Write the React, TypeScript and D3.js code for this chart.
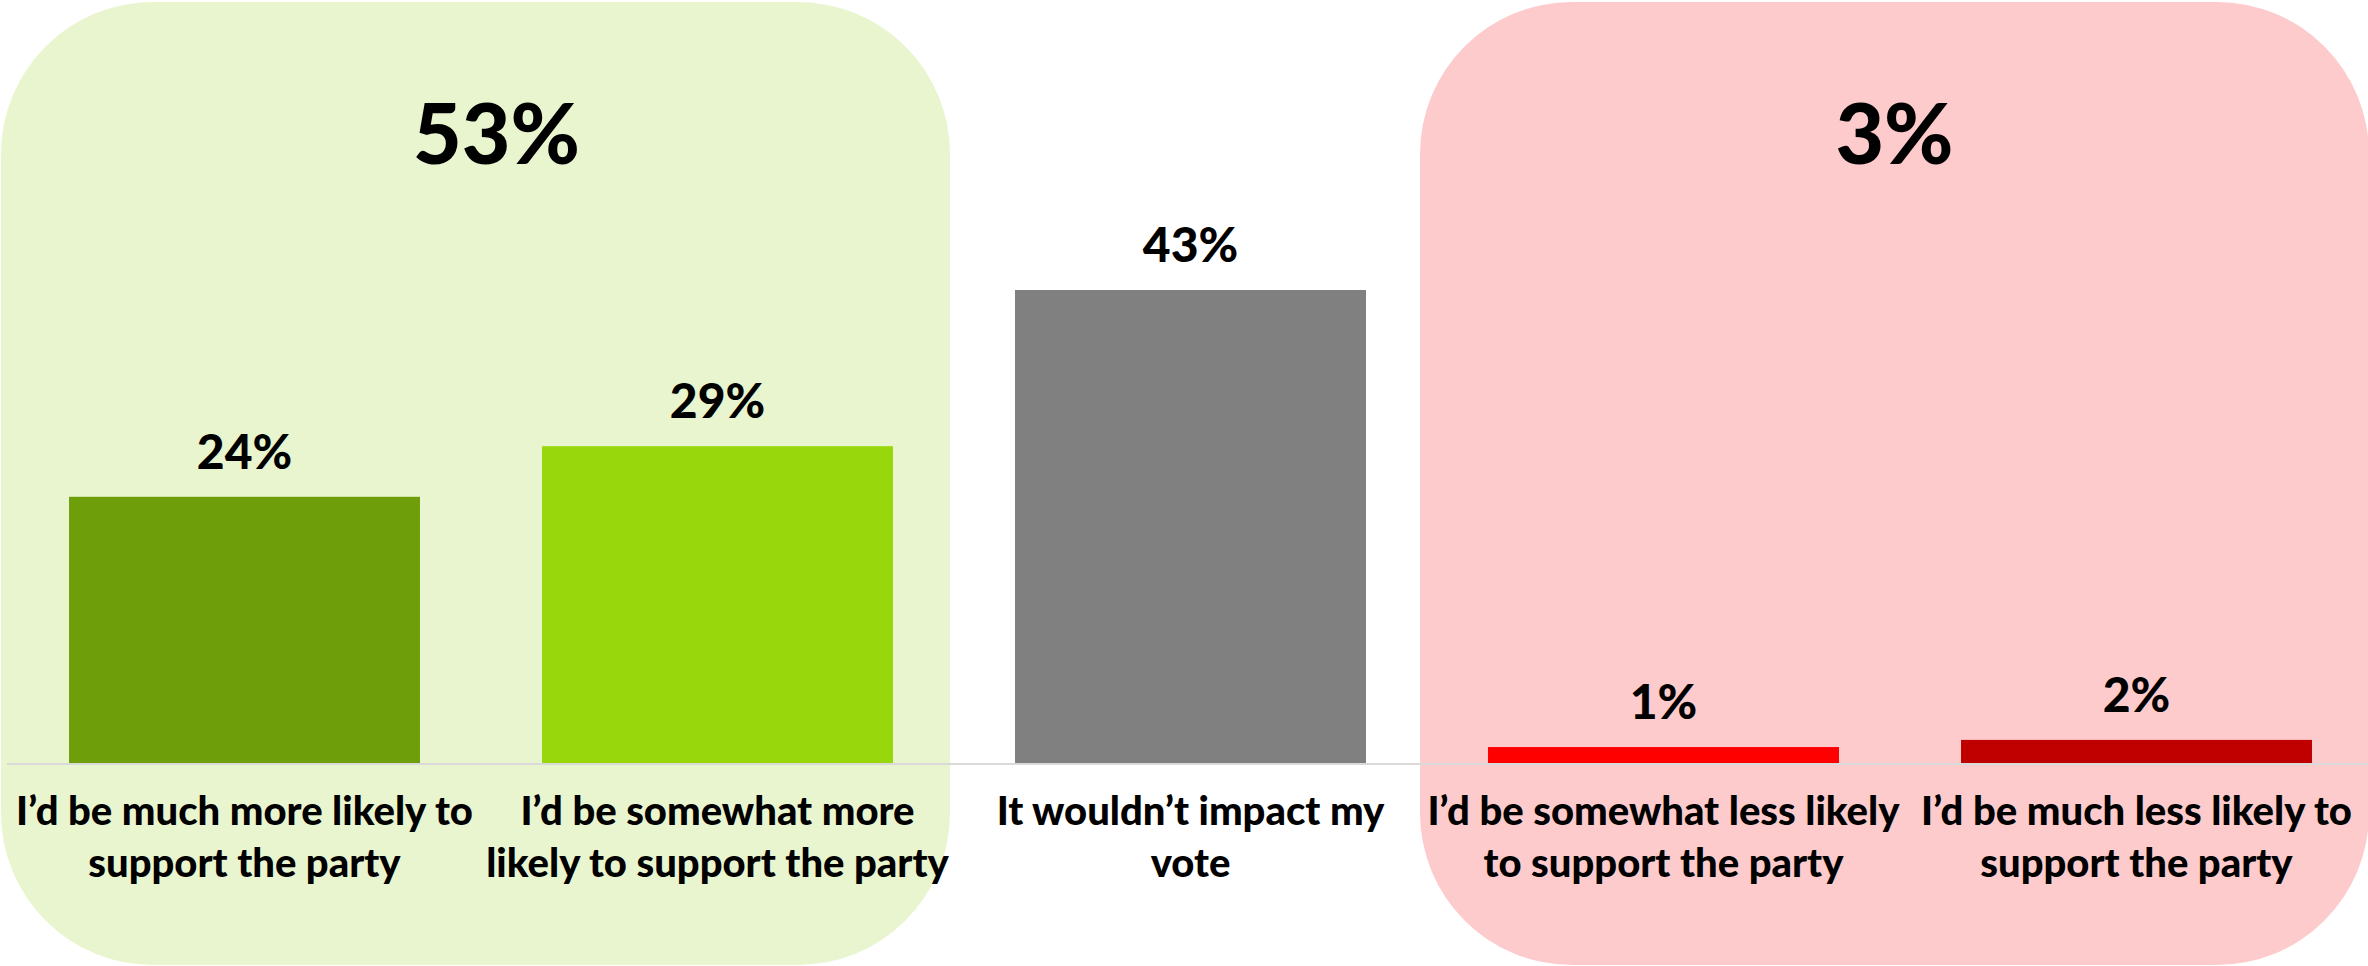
import React from "react";
import * as d3 from "d3";

const categories: string[][] = [
  ["I’d be much more likely to", "support the party"],
  ["I’d be somewhat more", "likely to support the party"],
  ["It wouldn’t impact my", "vote"],
  ["I’d be somewhat less likely", "to support the party"],
  ["I’d be much less likely to", "support the party"],
];
const values: number[] = [24.2, 28.8, 43.0, 1.45, 2.1];
const valueLabels: string[] = ["24%", "29%", "43%", "1%", "2%"];
const barColors: string[] = ["#6e9f0b", "#97d70b", "#808080", "#ff0000", "#c00000"];

const groupLabels: string[] = ["53%", "3%"];
const groupMembers: number[][] = [[0, 1], [3, 4]];
const groupFills: string[] = ["#e9f5cf", "#fdcbcb"];
const groupLabelDx: number[] = [21, 0];

const W = 2368;
const H = 966;
const FONT = "Lato, 'Open Sans', 'DejaVu Sans', sans-serif";

export default function App() {
  const x = d3
    .scaleBand<number>()
    .domain(d3.range(categories.length))
    .range([8, 2373])
    .paddingInner(0.258)
    .paddingOuter(0.129);
  const y = d3.scaleLinear().domain([0, 50]).range([763, 213]);
  const bw = x.bandwidth();

  return (
    <svg
      width={W}
      height={H}
      style={{ position: "absolute", left: 0, top: 0, background: "#fff" }}
      fontFamily={FONT}
    >
      {groupMembers.map((m, gi) => {
        const left = (x(m[0]) as number) - 68;
        const right = (x(m[m.length - 1]) as number) + bw + 57;
        const cx = (left + right) / 2 + groupLabelDx[gi];
        return (
          <g key={"g" + gi}>
            <rect x={left} y={2} width={right - left} height={963} rx={152} ry={152} fill={groupFills[gi]} />
            <text x={cx} y={164} textAnchor="middle" fontSize={84} fontWeight={900} fill="#000">
              {groupLabels[gi]}
            </text>
          </g>
        );
      })}
      <line x1={7} x2={W} y1={y(0) + 1} y2={y(0) + 1} stroke="#d9d9d9" strokeWidth={2} />
      {values.map((v, i) => (
        <g key={"b" + i}>
          <rect x={x(i)} y={y(v)} width={bw} height={y(0) - y(v)} fill={barColors[i]} />
          <text
            x={(x(i) as number) + bw / 2}
            y={y(v) - 28}
            textAnchor="middle"
            fontSize={48}
            fontWeight={900}
            fill="#000"
          >
            {valueLabels[i]}
          </text>
          {categories[i].map((line, li) => (
            <text
              key={li}
              x={(x(i) as number) + bw / 2}
              y={825 + li * 52}
              textAnchor="middle"
              fontSize={40}
              fontWeight={900}
              fill="#000"
            >
              {line}
            </text>
          ))}
        </g>
      ))}
    </svg>
  );
}
